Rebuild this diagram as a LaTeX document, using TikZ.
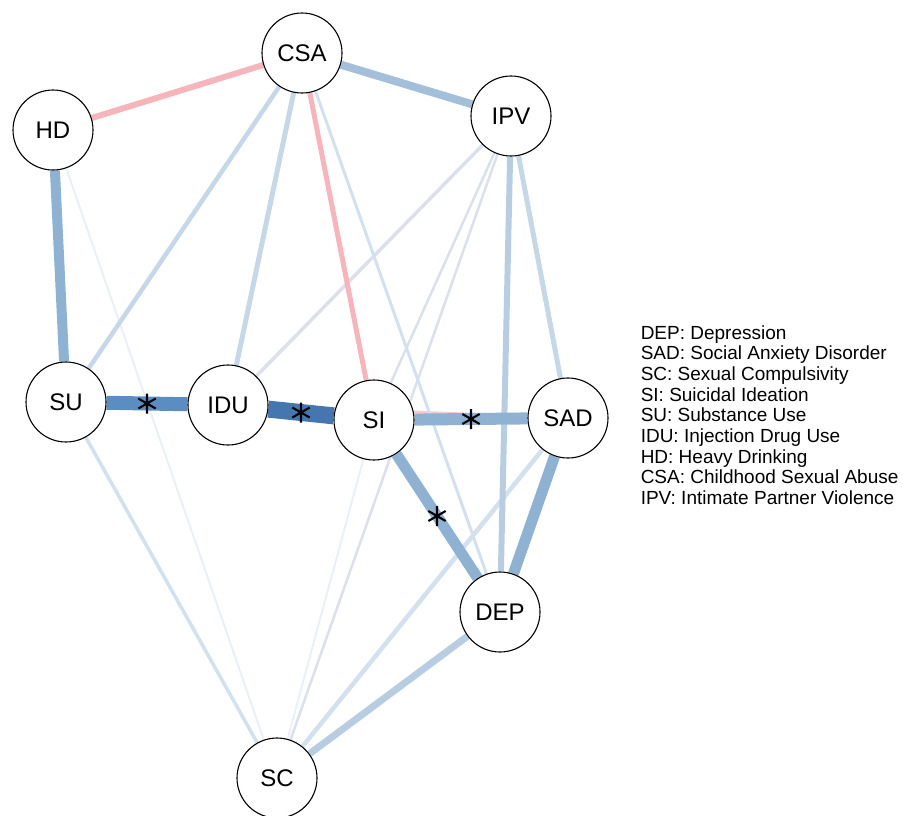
\documentclass[tikz,border=0pt]{standalone}
\usepackage{fontspec}
\setmainfont{Liberation Sans}
\usepackage{tikz}
\usetikzlibrary{positioning}
\usetikzlibrary{backgrounds}
\definecolor{edgeA}{HTML}{4576B0}
\definecolor{edgeB}{HTML}{5B8DC2}
\definecolor{edgeC}{HTML}{90B2D2}
\definecolor{edgeD}{HTML}{A3BFD9}
\definecolor{edgeE}{HTML}{B9CDE2}
\definecolor{edgeF}{HTML}{C6D7E8}
\definecolor{edgeG}{HTML}{D3E0EE}
\definecolor{edgeH}{HTML}{DCE0EC}
\definecolor{edgeI}{HTML}{EAF0F7}
\definecolor{negA}{HTML}{F6B4BB}
\definecolor{negB}{HTML}{F8C8CD}
\tikzset{varnode/.style={
        draw,
        circle,
        fill=white,
        minimum size=80pt,
        inner sep=0pt,
        line width=1.1pt,
        font=\fontsize{24}{28}\selectfont } }
\tikzset{sig/.style={
    circle,
    inner sep=0pt,
    minimum size=22pt,
    path picture={\draw[black, line width=2.1pt]
      (path picture bounding box.center) ++(90:10pt) -- ++(270:20pt)
      (path picture bounding box.center) ++(30:10pt) -- ++(210:20pt)
      (path picture bounding box.center) ++(150:10pt) -- ++(330:20pt);} } }
\tikzset{legend/.style={ align=left, inner sep=0pt,
    font=\fontsize{19}{20.7}\selectfont } }
\begin{document}
\begin{tikzpicture}[on grid]
\useasboundingbox (0,0) rectangle (903pt,-815pt);

\node[varnode] (CSA) at (302pt,-53pt) {CSA};
\node[varnode] (HD) [below left = 77pt and 249pt of CSA] {HD};
\node[varnode] (IPV) [below right = 63pt and 209pt of CSA] {IPV};
\node[varnode] (SU) [below right = 272pt and 13pt of HD] {SU};
\node[varnode] (IDU) [below right = 3pt and 162pt of SU] {IDU};
\node[varnode] (SI) [below right = 15pt and 146pt of IDU] {SI};
\node[varnode] (SAD) [above right = 2pt and 194pt of SI] {SAD};
\node[varnode] (DEP) [below right = 192pt and 126pt of SI] {DEP};
\node[varnode] (SC) [below left = 166pt and 223pt of DEP] {SC};

%%LEGEND
\node[legend, anchor=west, on grid=false] (key) [right = 32pt of SAD, yshift=3pt]
{DEP: Depression\\ SAD: Social Anxiety Disorder\\ SC: Sexual Compulsivity\\
SI: Suicidal Ideation\\ SU: Substance Use\\ IDU: Injection Drug Use\\
HD: Heavy Drinking\\ CSA: Childhood Sexual Abuse\\ IPV: Intimate Partner Violence};

\begin{pgfonlayer}{background}

%WEAK
\path
(HD) edge [draw=edgeI, line width=2pt] (SC)
(SI) edge [draw=edgeI, line width=2pt] (SC)
(IPV) edge [draw=edgeH, line width=2.5pt] (SC)
(IPV) edge [draw=edgeH, line width=2.5pt] (SI)
(IPV) edge [draw=edgeH, line width=3.5pt] (IDU)
(IDU) edge [draw=negB, line width=3pt] (SAD)
(CSA) edge [draw=edgeG, line width=3pt] (DEP)
(SU) edge [draw=edgeG, line width=3.5pt] (SC)
(SAD) edge [draw=edgeG, line width=4.5pt] (SC)
(CSA) edge [draw=edgeF, line width=4.5pt] (SU)
(IPV) edge [draw=edgeF, line width=5pt] (SAD)
(CSA) edge [draw=edgeF, line width=5pt] (IDU)
;

%MEDIUM
\path
(CSA) edge [draw=negA, line width=5pt] (SI)
(HD) edge [draw=negA, line width=6pt] (CSA)
(IPV) edge [draw=edgeE, line width=6pt] (DEP)
(DEP) edge [draw=edgeE, line width=7pt] (SC)
(CSA) edge [draw=edgeD, line width=8pt] (IPV)
(HD) edge [draw=edgeC, line width=10pt] (SU)
(SAD) edge [draw=edgeC, line width=11pt] (DEP)
;

%STRONG
\path
(SI) edge [draw=edgeC, line width=11pt] node[sig]{} (DEP)
(SI) edge [draw=edgeC, line width=12pt] node[sig]{} (SAD)
(SU) edge [draw=edgeB, line width=14pt] node[sig]{} (IDU)
(IDU) edge [draw=edgeA, line width=17pt] node[sig]{} (SI)
;

\end{pgfonlayer}

\end{tikzpicture}
\end{document}
